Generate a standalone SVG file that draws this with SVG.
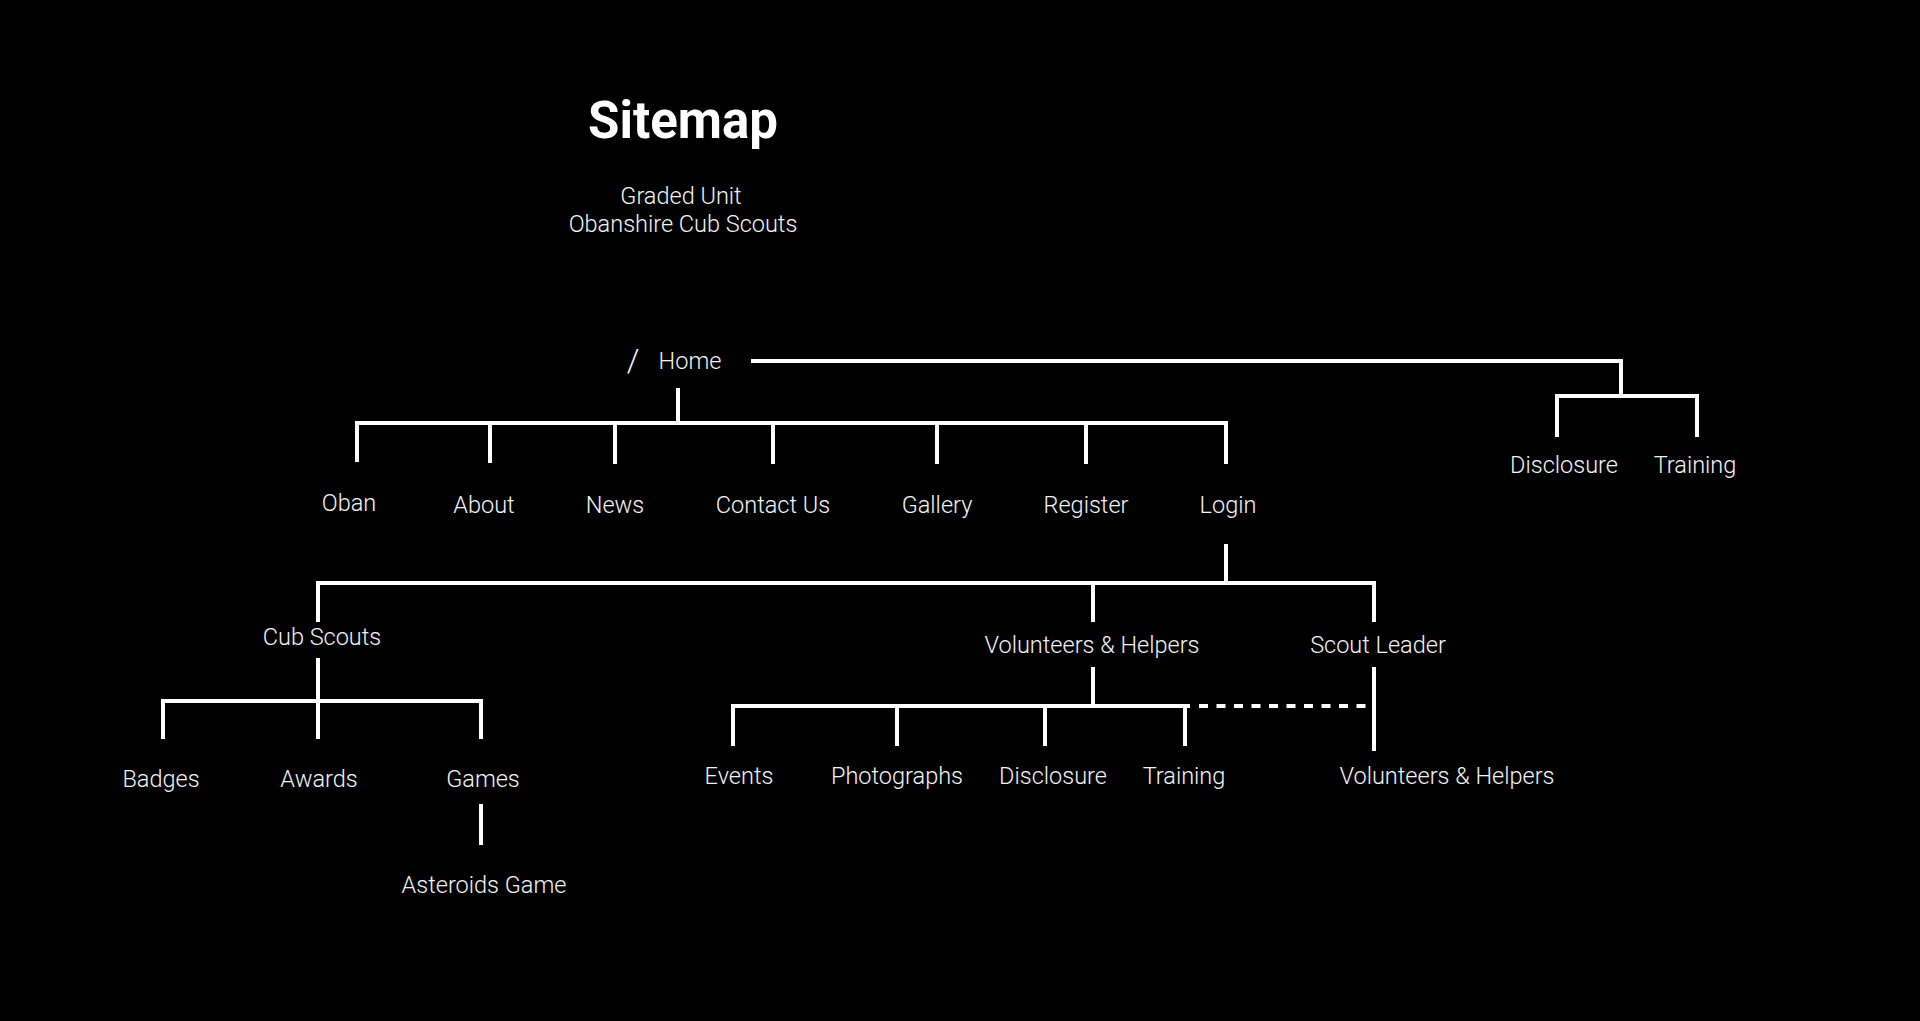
<svg xmlns="http://www.w3.org/2000/svg" width="1920" height="1021" viewBox="0 0 1920 1021">
<style>
.t{font-family:"Roboto Light",Roboto,"Liberation Sans",sans-serif;font-weight:300;font-size:23.5px;fill:#f2f2f2;text-anchor:middle}
.title{font-family:Roboto,"Liberation Sans",sans-serif;font-weight:700;font-size:51px;fill:#ffffff;text-anchor:middle}
.c{fill:none;stroke:#ffffff;stroke-width:4}
.d{fill:none;stroke:#ffffff;stroke-width:4;stroke-dasharray:9 8.5}
</style>
<rect width="1920" height="1021" fill="#000000"/>
<g id="heading">
<text class="title" x="683" y="138">Sitemap</text>
<text class="t" x="681" y="204">Graded Unit</text>
<text class="t" x="683" y="232">Obanshire Cub Scouts</text>
</g>
<g id="connectors">
<path class="c" d="M751,361 H1621 V396"/>
<path class="c" d="M1557,437 V396 H1697 V437"/>
<path class="c" d="M678,388 V423"/>
<path class="c" d="M357,462 V423 H1226 V464"/>
<path class="c" d="M490,423 V463 M615,423 V464 M773,423 V464 M937,423 V464 M1086,423 V464"/>
<path class="c" d="M1226,544 V583"/>
<path class="c" d="M318,622 V583 H1374 V622"/>
<path class="c" d="M1093,583 V622"/>
<path class="c" d="M318,658 V701"/>
<path class="c" d="M163,739 V701 H481 V739"/>
<path class="c" d="M318,701 V739"/>
<path class="c" d="M481,804 V845"/>
<path class="c" d="M1093,667 V706"/>
<path class="c" d="M733,746 V706 H1190"/>
<path class="c" d="M897,706 V746 M1045,706 V746 M1185,706 V746"/>
<path class="d" d="M1199,706 H1370"/>
<path class="c" d="M1374,667 V751"/>
</g>
<g id="node-home"><text class="t" x="633" y="371" style="font-size:32px">/</text><text class="t" x="690" y="369">Home</text></g>
<g id="node-oban"><text class="t" x="349" y="511">Oban</text></g>
<g id="node-about"><text class="t" x="484" y="513">About</text></g>
<g id="node-news"><text class="t" x="615" y="513">News</text></g>
<g id="node-contact"><text class="t" x="773" y="513">Contact Us</text></g>
<g id="node-gallery"><text class="t" x="937" y="513">Gallery</text></g>
<g id="node-register"><text class="t" x="1086" y="513">Register</text></g>
<g id="node-login"><text class="t" x="1228" y="513">Login</text></g>
<g id="node-disclosure-top"><text class="t" x="1564" y="473">Disclosure</text></g>
<g id="node-training-top"><text class="t" x="1695" y="473">Training</text></g>
<g id="node-cubscouts"><text class="t" x="322" y="645">Cub Scouts</text></g>
<g id="node-volunteers"><text class="t" x="1092" y="653">Volunteers &amp; Helpers</text></g>
<g id="node-scoutleader"><text class="t" x="1378" y="653">Scout Leader</text></g>
<g id="node-badges"><text class="t" x="161" y="787">Badges</text></g>
<g id="node-awards"><text class="t" x="319" y="787">Awards</text></g>
<g id="node-games"><text class="t" x="483" y="787">Games</text></g>
<g id="node-asteroids"><text class="t" x="484" y="893">Asteroids Game</text></g>
<g id="node-events"><text class="t" x="739" y="784">Events</text></g>
<g id="node-photographs"><text class="t" x="897" y="784">Photographs</text></g>
<g id="node-disclosure"><text class="t" x="1053" y="784">Disclosure</text></g>
<g id="node-training"><text class="t" x="1184" y="784">Training</text></g>
<g id="node-volunteers2"><text class="t" x="1447" y="784">Volunteers &amp; Helpers</text></g>
</svg>
